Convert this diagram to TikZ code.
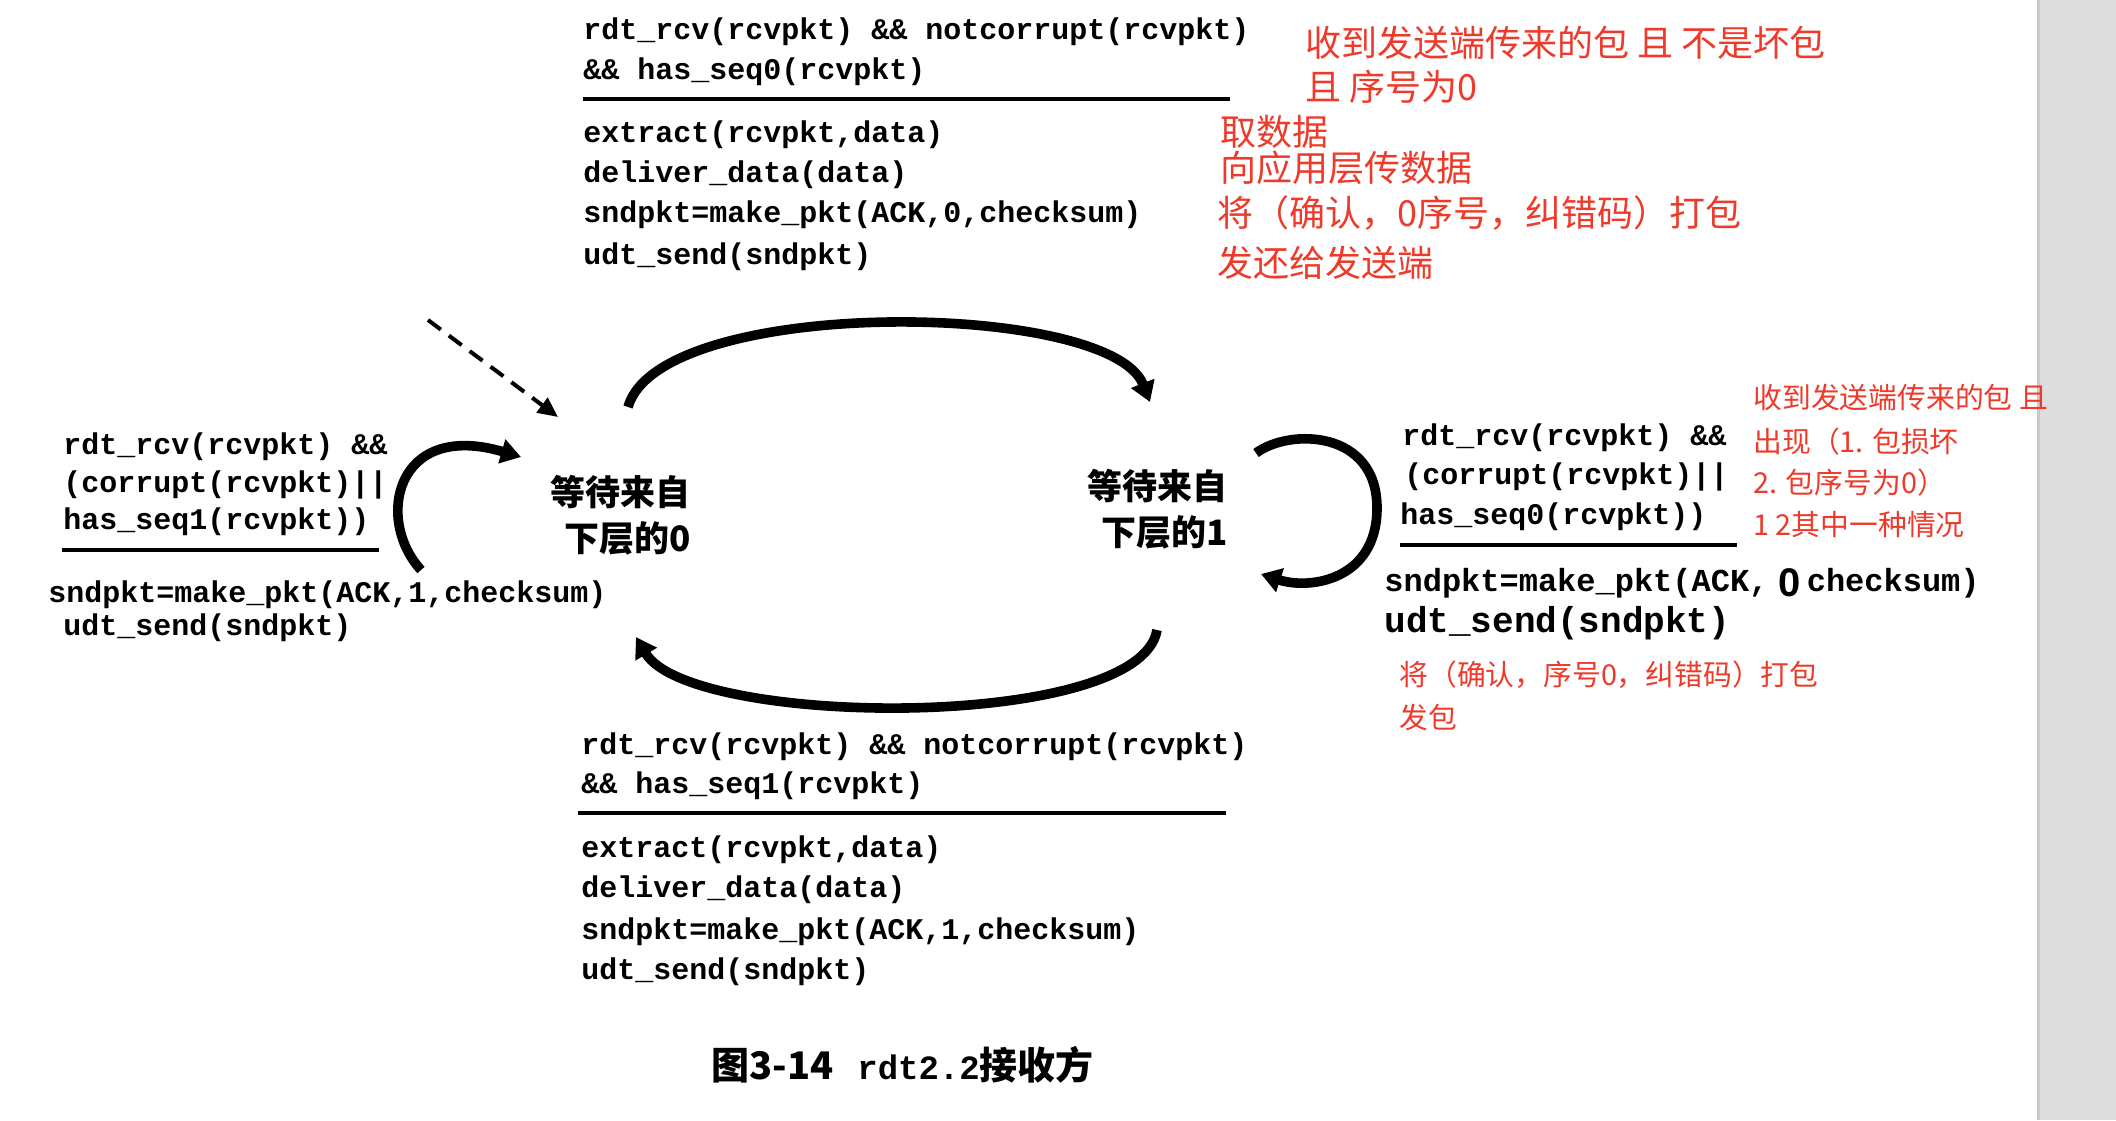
\documentclass[tikz,border=0pt]{standalone}
\usepackage{fontspec}
\setmonofont{Liberation Mono}
\newfontfamily\cjk{Noto Sans CJK SC}
\newfontfamily\sansf{Liberation Sans}
\usetikzlibrary{arrows.meta}
\definecolor{annred}{RGB}{238,58,42}
\definecolor{stripgray}{RGB}{221,221,221}
\definecolor{stripedge}{RGB}{200,200,200}
\begin{document}
\begin{tikzpicture}[x=0.5pt,y=-0.5pt,
  code/.style={anchor=west,inner sep=0pt,font=\ttfamily\bfseries\fontsize{15}{18}\selectfont},
  codemid/.style={code,font=\ttfamily\bfseries\fontsize{16}{19}\selectfont},
  codebig/.style={code,font=\ttfamily\bfseries\fontsize{18}{21}\selectfont},
  ann/.style={anchor=west,inner sep=0pt,text=annred,font=\cjk\fontsize{18}{22}\selectfont},
  annsm/.style={anchor=west,inner sep=0pt,text=annred,font=\cjk\fontsize{14.4}{18}\selectfont},
  statetxt/.style={anchor=east,inner sep=0pt,align=right,font=\cjk\bfseries\fontsize{17.5}{23}\selectfont},
  rulel/.style={line width=2pt},
  trans/.style={line width=4.8pt,-{Triangle[length=10pt,width=12pt]}},
  initarrow/.style={line width=2pt,dash pattern=on 8pt off 5pt,-{Triangle[length=10pt,width=9pt]}},
]
\useasboundingbox (0,0) rectangle (2116,1120);
\fill[white] (0,0) rectangle (2116,1120);
\fill[stripgray] (2037,0) rectangle (2116,1120);
\draw[stripedge,line width=1.5pt] (2038,0) -- (2038,1120);

% states
\node[statetxt] (s0) at (691,515) {等待来自\\下层的0};
\node[statetxt] (s1) at (1228,509) {等待来自\\下层的1};

% connector end points
\coordinate (dstart) at (428,320);
\coordinate (dend) at (558,417);
\coordinate (a1s) at (628,407);
\coordinate (a1e) at (1150,402);
\coordinate (b1s) at (1157,630);
\coordinate (b1e) at (636,637);
\coordinate (l0s) at (421,570);
\coordinate (l0e) at (521,457);
\coordinate (r1s) at (1256,453);
\coordinate (r1e) at (1261,574);

\draw[initarrow] (dstart) -- (dend);
\draw[trans] (a1s) .. controls (660,295) and (1110,300) .. (a1e);
\draw[trans] (b1s) .. controls (1140,732) and (690,728) .. (b1e);
\draw[trans] (l0s) .. controls (375,520) and (395,420) .. (l0e);
\draw[trans] (r1s) .. controls (1290,428) and (1377,430) .. (1377,508)
                   .. controls (1377,580) and (1310,590) .. (r1e);

% top transition label
\node[code] (t1) at (583,32) {rdt\_rcv(rcvpkt) \&\& notcorrupt(rcvpkt)};
\node[code] (t2) at (583,72) {\&\& has\_seq0(rcvpkt)};
\draw[rulel] (583,99) -- (1230,99);
\node[code] (t3) at (583,135) {extract(rcvpkt,data)};
\node[code] (t4) at (583,175) {deliver\_data(data)};
\node[code] (t5) at (583,215) {sndpkt=make\_pkt(ACK,0,checksum)};
\node[code] (t6) at (583,257) {udt\_send(sndpkt)};

% left self loop label
\node[code] (l1) at (63,447) {rdt\_rcv(rcvpkt) \&\&};
\node[code] (l2) at (63,485) {(corrupt(rcvpkt)||};
\node[code] (l3) at (63,522) {has\_seq1(rcvpkt))};
\draw[rulel] (62,550) -- (379,550);
\node[code] (l4) at (48,595) {sndpkt=make\_pkt(ACK,1,checksum)};
\node[code] (l5) at (63,628) {udt\_send(sndpkt)};

% right self loop label
\node[code] (r1) at (1402,438) {rdt\_rcv(rcvpkt) \&\&};
\node[code] (r2) at (1404,477) {(corrupt(rcvpkt)||};
\node[code] (r3) at (1400,517) {has\_seq0(rcvpkt))};
\draw[rulel] (1400,545) -- (1737,545);
\node[codemid] (r4) at (1384,583) {sndpkt=make\_pkt(ACK,\phantom{1,}checksum)};
\node[inner sep=0pt,font=\sansf\bfseries\fontsize{20}{22}\selectfont] (r4z) at (1790,583) {0};
\node[codebig] (r5) at (1384,623) {udt\_send(sndpkt)};

% bottom transition label
\node[code] (b1) at (581,747) {rdt\_rcv(rcvpkt) \&\& notcorrupt(rcvpkt)};
\node[code] (b2) at (581,786) {\&\& has\_seq1(rcvpkt)};
\draw[rulel] (578,813) -- (1226,813);
\node[code] (b3) at (581,850) {extract(rcvpkt,data)};
\node[code] (b4) at (581,890) {deliver\_data(data)};
\node[code] (b5) at (581,932) {sndpkt=make\_pkt(ACK,1,checksum)};
\node[code] (b6) at (581,972) {udt\_send(sndpkt)};

% red annotations, top
\node[ann] (n1) at (1305,43) {收到发送端传来的包 且 不是坏包};
\node[ann] (n2) at (1305,87) {且 序号为0};
\node[ann] (n3) at (1220,132) {取数据};
\node[ann] (n4) at (1220,168) {向应用层传数据};
\node[ann] (n5) at (1217,213) {将（确认，0序号，纠错码）打包};
\node[ann] (n6) at (1217,263) {发还给发送端};

% red annotations, right
\node[annsm] (m1) at (1753,398) {收到发送端传来的包 且};
\node[annsm] (m2) at (1753,442) {出现（1. 包损坏};
\node[annsm] (m3) at (1753,483) {2. 包序号为0）};
\node[annsm] (m4) at (1753,525) {1 2其中一种情况};
\node[annsm] (m5) at (1399,675) {将（确认，序号0，纠错码）打包};
\node[annsm] (m6) at (1399,718) {发包};

% caption
\node[anchor=west,inner sep=0pt] (cap) at (711,1065)
  {{\cjk\bfseries\fontsize{19}{22}\selectfont 图3-14}\hspace{12pt}{\ttfamily\bfseries\fontsize{17}{20}\selectfont rdt2.2}{\cjk\bfseries\fontsize{19}{22}\selectfont 接收方}};
\end{tikzpicture}
\end{document}
